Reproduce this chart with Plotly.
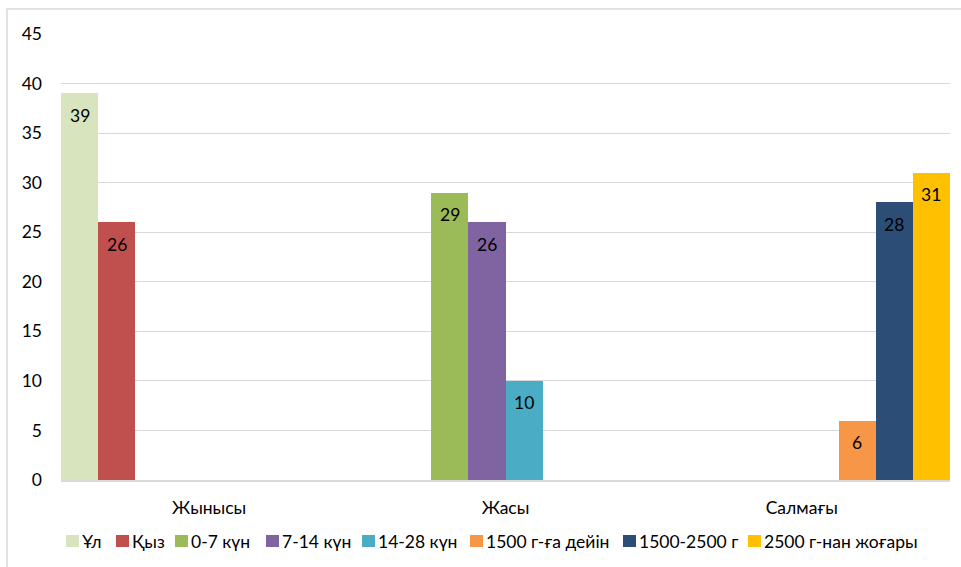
import plotly.graph_objects as go

categories = ["Жынысы", "Жасы", "Салмағы"]
series_names = ["Ұл", "Қыз", "0-7 күн", "7-14 күн", "14-28 күн",
                "1500 г-ға дейін", "1500-2500 г", "2500 г-нан жоғары"]
ul = [39, None, None]
kyz = [26, None, None]
d0_7 = [None, 29, None]
d7_14 = [None, 26, None]
d14_28 = [None, 10, None]
w_lt1500 = [None, None, 6]
w_1500_2500 = [None, None, 28]
w_gt2500 = [None, None, 31]
series_values = [ul, kyz, d0_7, d7_14, d14_28, w_lt1500, w_1500_2500, w_gt2500]
colors = ["#D7E4BD", "#C0504D", "#9BBB59", "#8064A2", "#4BACC6",
          "#F79646", "#2C4D75", "#FFC000"]
y_ticks = [0, 5, 10, 15, 20, 25, 30, 35, 40, 45]

FONT = "Lato"
FS = 17.5

W, H = 961, 567
L, R, T, B = 61, 11, 34, 87
pw, ph = W - L - R, H - T - B
n = len(series_names)

fig = go.Figure()
for name, vals, col in zip(series_names, series_values, colors):
    fig.add_trace(go.Bar(
        name=name, x=categories, y=vals, marker_color=col,
        marker_line_width=0, showlegend=False,
    ))

annotations = []
# value labels, placed inside the top of each bar
for j, vals in enumerate(series_values):
    for i, v in enumerate(vals):
        if v is None:
            continue
        annotations.append(dict(
            x=i + (j - (n - 1) / 2) / n, y=v, xref="x", yref="y",
            text=str(v), showarrow=False, yshift=-22,
            font=dict(family=FONT, size=FS, color="black"),
        ))

# custom legend (pixel layout like the reference)
legend_sq_x = [66, 116, 175, 266, 362, 470, 623, 748]
legend_y = 541
shapes = [dict(type="rect", xref="paper", yref="paper",
               x0=(7 - L) / pw, x1=1.1, y0=-0.4, y1=1 + (T - 9) / ph,
               line=dict(color="#d9d9d9", width=1.5), layer="below")]


def px_x(p):
    return (p - L) / pw


def px_y(p):
    return (H - B - p) / ph


for name, col, sx in zip(series_names, colors, legend_sq_x):
    shapes.append(dict(type="rect", xref="paper", yref="paper",
                       x0=px_x(sx), x1=px_x(sx + 13),
                       y0=px_y(legend_y + 6), y1=px_y(legend_y - 6),
                       fillcolor=col, line=dict(width=0)))
    annotations.append(dict(x=px_x(sx + 14), y=px_y(legend_y),
                            xref="paper", yref="paper", text=name,
                            showarrow=False, xanchor="left", yanchor="middle",
                            font=dict(family=FONT, size=FS, color="black")))

fig.update_layout(
    width=W, height=H,
    margin=dict(l=L, r=R, t=T, b=B, autoexpand=False),
    barmode="group", bargap=0, bargroupgap=0,
    paper_bgcolor="white", plot_bgcolor="white",
    font=dict(family=FONT, size=FS, color="black"),
    showlegend=False,
    shapes=shapes, annotations=annotations,
)
fig.update_yaxes(range=[0, 45], tickvals=y_ticks, showgrid=True,
                 gridcolor="#d9d9d9", gridwidth=1, zeroline=False,
                 showline=False, ticks="", ticklabelstandoff=18,
                 tickfont=dict(family=FONT, size=FS, color="black"))
fig.update_xaxes(showline=True, linecolor="#d9d9d9", linewidth=2,
                 ticks="", ticklabelstandoff=11,
                 tickfont=dict(family=FONT, size=FS, color="black"))

fig.write_html("out.html")
